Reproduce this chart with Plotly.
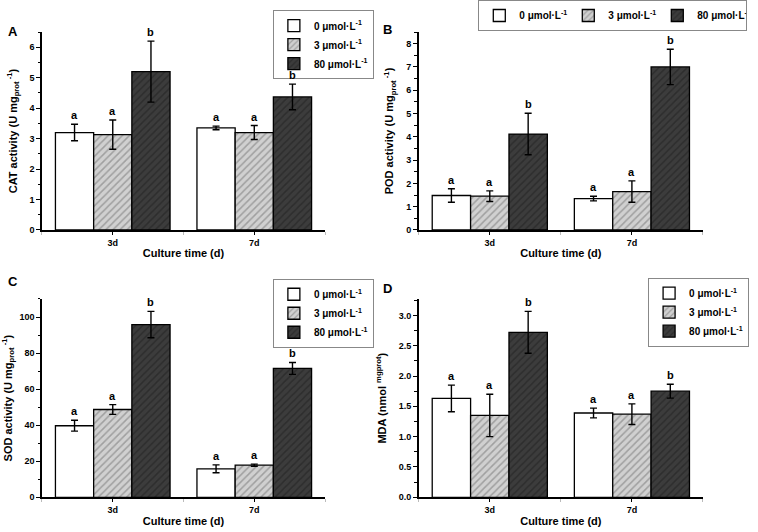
import plotly.graph_objects as go

FONT = "Arial, Liberation Sans, sans-serif"

days = ["3d", "7d"]
conc_labels = ["0 μmol·L<sup>-1</sup>", "3 μmol·L<sup>-1</sup>", "80 μmol·L<sup>-1</sup>"]

# rows: 0, 3, 80 umol/L ; columns: 3d, 7d
cat_means = [[3.20, 3.35], [3.13, 3.20], [5.20, 4.37]]
cat_errs = [[0.27, 0.06], [0.48, 0.23], [1.00, 0.42]]
cat_letters = [["a", "a"], ["a", "a"], ["b", "b"]]

pod_means = [[1.48, 1.35], [1.45, 1.65], [4.12, 7.00]]
pod_errs = [[0.29, 0.10], [0.23, 0.46], [0.89, 0.76]]
pod_letters = [["a", "a"], ["a", "a"], ["b", "b"]]

sod_means = [[39.7, 15.8], [48.7, 17.8], [95.8, 71.5]]
sod_errs = [[3.0, 2.2], [2.7, 0.6], [7.3, 3.3]]
sod_letters = [["a", "a"], ["a", "a"], ["b", "b"]]

mda_means = [[1.63, 1.39], [1.35, 1.37], [2.72, 1.75]]
mda_errs = [[0.22, 0.08], [0.35, 0.17], [0.345, 0.115]]
mda_letters = [["a", "a"], ["a", "a"], ["b", "b"]]

BAR_STYLES = [
    {"color": "white", "pattern": {"shape": ""}},
    {"color": "#d0d0d0", "pattern": {"shape": "/", "fgcolor": "#6e6e6e", "size": 5, "solidity": 0.3}},
    {"color": "#3c3c3c", "pattern": {"shape": "/", "fgcolor": "#1e1e1e", "size": 5, "solidity": 0.3}},
]

panels = [
    # tag, means, errs, letters, ytitle, yrange, dtick, minor, legend, xdom, ydom, tag pos
    ("A", cat_means, cat_errs, cat_letters,
     "CAT activity (U mg<sub>prot</sub><sup> -1</sup>)", [0, 6.5], 1, 0.5,
     "legend", [0.0554, 0.4288], [0.5677, 0.9398], (0.008, 0.941)),
    ("B", pod_means, pod_errs, pod_letters,
     "POD activity (U mg<sub>prot</sub><sup> -1</sup>)", [0, 8.5], 1, 0.5,
     "legend2", [0.5524, 0.9274], [0.5677, 0.9398], (0.503, 0.944)),
    ("C", sod_means, sod_errs, sod_letters,
     "SOD activity (U mg<sub>prot</sub><sup> -1</sup>)", [0, 110], 20, 10,
     "legend3", [0.0554, 0.4288], [0.0652, 0.438], (0.008, 0.470)),
    ("D", mda_means, mda_errs, mda_letters,
     "MDA (nmol <sup>mgprot</sup>)", [0, 3.27], 0.5, 0.25,
     "legend4", [0.5524, 0.9274], [0.0652, 0.438], (0.503, 0.457)),
]

fig = go.Figure()
annotations = []
bargap = 0.19
bw = (1 - bargap) / 3

for k, (tag, means, errs, letters, ytitle, yr, dtick, minor, leg, xdom, ydom, tpos) in enumerate(panels):
    sfx = "" if k == 0 else str(k + 1)
    xa, ya = "x" + sfx, "y" + sfx
    for i in range(3):
        fig.add_trace(go.Bar(
            x=[0, 1], y=means[i],
            error_y={"type": "data", "array": errs[i], "color": "black",
                     "thickness": 1.4, "width": 3.5},
            marker={"color": BAR_STYLES[i]["color"], "pattern": BAR_STYLES[i]["pattern"],
                    "line": {"color": "black", "width": 1.3}},
            name=conc_labels[i], legend=leg, xaxis=xa, yaxis=ya,
        ))
        for j in range(2):
            annotations.append(dict(
                x=j + (i - 1) * bw, y=means[i][j] + errs[i][j], xref=xa, yref=ya,
                text=f"<b>{letters[i][j]}</b>", showarrow=False, yanchor="bottom",
                yshift=1, font={"size": 11, "family": FONT, "color": "black"},
            ))
    annotations.append(dict(
        x=tpos[0], y=tpos[1], xref="paper", yref="paper",
        text=f"<b>{tag}</b>", showarrow=False, xanchor="left", yanchor="middle",
        font={"size": 13, "family": FONT, "color": "black"},
    ))
    axis_common = dict(showline=True, linecolor="black", linewidth=1.5, ticks="outside",
                       tickwidth=1.3, tickcolor="black", showgrid=False, zeroline=False,
                       tickfont={"size": 9, "family": FONT, "color": "black", "weight": "bold"})
    fig.update_layout({
        "xaxis" + sfx: dict(axis_common, domain=xdom, anchor=ya, range=[-0.5, 1.5],
                            tickvals=[0, 1], ticktext=days, ticklen=3,
                            minor={"tickvals": [-0.5, 0.5, 1.5], "ticks": "outside", "ticklen": 3,
                                   "tickcolor": "#bbbbbb"},
                            title={"text": "<b>Culture time (d)</b>", "standoff": 3,
                                   "font": {"size": 11, "family": FONT, "color": "black"}}),
        "yaxis" + sfx: dict(axis_common, domain=ydom, anchor=xa, range=yr, dtick=dtick,
                            ticklen=4,
                            tickformat=".1f" if tag == "D" else "",
                            minor={"dtick": minor, "ticks": "outside", "ticklen": 2.5,
                                   "tickcolor": "black"},
                            title={"text": f"<b>{ytitle}</b>", "standoff": 10,
                                   "font": {"size": 11, "family": FONT, "color": "black"}}),
    })

legend_common = dict(bgcolor="white", bordercolor="#888888", borderwidth=1,
                     font={"size": 10, "family": FONT, "color": "black", "weight": "bold"},
                     tracegroupgap=0, itemwidth=30, yanchor="top", xanchor="left")
fig.update_layout(
    barmode="group", bargap=bargap, bargroupgap=0,
    width=758, height=532,
    margin={"l": 0, "r": 0, "t": 0, "b": 0, "autoexpand": False},
    plot_bgcolor="white", paper_bgcolor="white",
    font={"family": FONT, "color": "black"},
    annotations=annotations,
    legend=dict(legend_common, x=0.360, y=0.981),
    legend2=dict(legend_common, x=0.631, y=1.0, orientation="h", entrywidth=44),
    legend3=dict(legend_common, x=0.360, y=0.476),
    legend4=dict(legend_common, x=0.855, y=0.478),
)

# page body has a default 8px margin; drop it so the figure fills the window
fig.write_html("out.html", config={"displayModeBar": False},
               post_script="document.body.style.margin='0';")
